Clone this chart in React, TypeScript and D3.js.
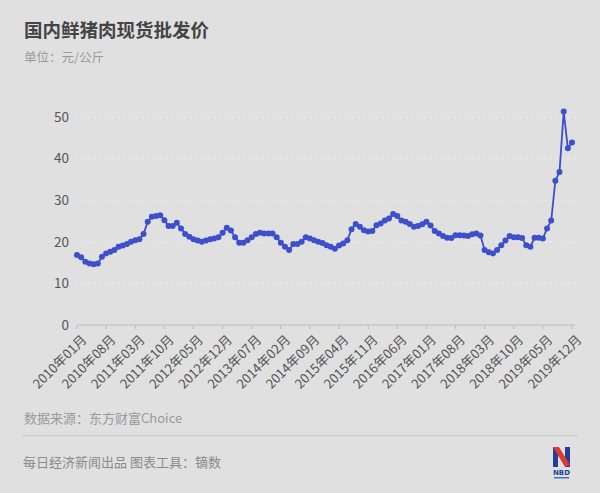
import React from "react";
import * as d3 from "d3";

const months: string[] = [];
for (let y = 2010; y <= 2019; y++) {
  for (let m = 1; m <= 12; m++) months.push(`${y}年${String(m).padStart(2, "0")}月`);
}

const prices: number[] = [
  16.8, 16.3, 15.2, 14.8, 14.6, 14.8, 16.4, 17.2, 17.6, 18.0,
  18.8, 19.1, 19.5, 20.0, 20.4, 20.6, 21.9, 24.8, 26.0, 26.2,
  26.4, 25.2, 23.8, 23.8, 24.6, 23.2, 21.9, 21.2, 20.6, 20.3,
  20.0, 20.3, 20.6, 20.8, 21.1, 22.2, 23.4, 22.7, 21.1, 19.8,
  19.8, 20.4, 21.1, 21.9, 22.2, 22.0, 22.0, 22.0, 21.1, 19.8,
  18.8, 18.0, 19.5, 19.5, 20.0, 21.1, 20.8, 20.4, 20.0, 19.7,
  19.2, 18.8, 18.3, 19.1, 19.6, 20.4, 23.0, 24.3, 23.6, 22.8,
  22.5, 22.6, 24.0, 24.4, 25.1, 25.6, 26.7, 26.2, 25.1, 24.8,
  24.3, 23.6, 23.8, 24.2, 24.8, 23.9, 22.6, 22.0, 21.4, 21.0,
  20.9, 21.6, 21.6, 21.5, 21.4, 21.8, 22.0, 21.5, 18.0, 17.5,
  17.2, 18.0, 19.2, 20.3, 21.4, 21.1, 21.1, 20.9, 19.2, 18.8,
  21.0, 21.0, 20.8, 23.2, 25.1, 34.7, 36.8, 51.3, 42.5, 43.9,
];

const yTicks: number[] = [0, 10, 20, 30, 40, 50];
const xTickLabels: string[] = months.filter((_, i) => i % 7 === 0);

const title = "国内鲜猪肉现货批发价";
const subtitle = "单位：元/公斤";
const source = "数据来源：东方财富Choice";
const footer = "每日经济新闻出品 图表工具：镝数";

export default function App() {
  const W = 600;
  const H = 493;
  const left = 77;
  const right = 572;
  const top = 117;
  const bottom = 325;

  const x = d3.scalePoint<string>().domain(months).range([left, right]);
  const y = d3.scaleLinear().domain([0, 50]).range([bottom, top]);

  const line = d3
    .line<number>()
    .x((_, i) => x(months[i]) as number)
    .y((d) => y(d));

  const font = "'Noto Sans CJK SC', 'Noto Sans', sans-serif";

  return (
    <svg
      width={W}
      height={H}
      style={{ position: "absolute", left: 0, top: 0, display: "block" }}
      fontFamily={font}
    >
      <rect x={0} y={0} width={W} height={H} fill="#e0e0e0" />
      <text x={24} y={37} fontSize={18.5} fontWeight="bold" fill="#444">
        {title}
      </text>
      <text x={24} y={62} fontSize={12.5} fill="#9a9a9a">
        {subtitle}
      </text>

      {yTicks.map((t) => (
        <g key={t}>
          {t > 0 && (
            <line
              x1={left - 2}
              x2={right + 4}
              y1={y(t)}
              y2={y(t)}
              stroke="#ececec"
              strokeWidth={1}
              strokeDasharray="3,3"
            />
          )}
          <text
            x={69}
            y={y(t)}
            dy="0.35em"
            textAnchor="end"
            fontSize={13.5}
            fill="#555"
          >
            {t}
          </text>
        </g>
      ))}

      <line x1={left} x2={right + 3} y1={bottom} y2={bottom} stroke="#bdbdbd" strokeWidth={1} />
      {xTickLabels.map((lab) => {
        const px = x(lab) as number;
        return (
          <g key={lab}>
            <line x1={px} x2={px} y1={bottom} y2={bottom + 4} stroke="#bdbdbd" />
            <text
              transform={`translate(${px + 4},${bottom + 9}) rotate(-45)`}
              textAnchor="end"
              fontSize={13}
              fill="#555"
              dy="0.7em"
            >
              {lab}
            </text>
          </g>
        );
      })}

      <path d={line(prices) || ""} fill="none" stroke="#3d4fcb" strokeWidth={1.8} />
      {prices.map((v, i) => (
        <circle key={i} cx={x(months[i]) as number} cy={y(v)} r={3} fill="#3d4fcb" />
      ))}

      <text x={24} y={423} fontSize={13} fill="#9a9a9a">
        {source}
      </text>
      <line x1={22} x2={578} y1={435.5} y2={435.5} stroke="#cacaca" strokeWidth={1} />
      <text x={23} y={467} fontSize={13} fill="#8a8a8a">
        {footer}
      </text>

      <g transform="translate(553,447)">
        <path d="M0,0 L5,0 L5,20 L0,20 Z" fill="#1f3f9a" />
        <path d="M12,0 L17,0 L17,20 L12,20 Z" fill="#1f3f9a" />
        <path d="M0,0 L6,0 L17,18 L12,20 Z" fill="#e03a2f" />
        <text x={8.5} y={28} fontSize={7} fontWeight="bold" fill="#1f3f9a" textAnchor="middle" fontFamily="DejaVu Sans">
          NBD
        </text>
        <rect x={1} y={30} width={15} height={1.5} fill="#4a6bbf" />
      </g>
    </svg>
  );
}
